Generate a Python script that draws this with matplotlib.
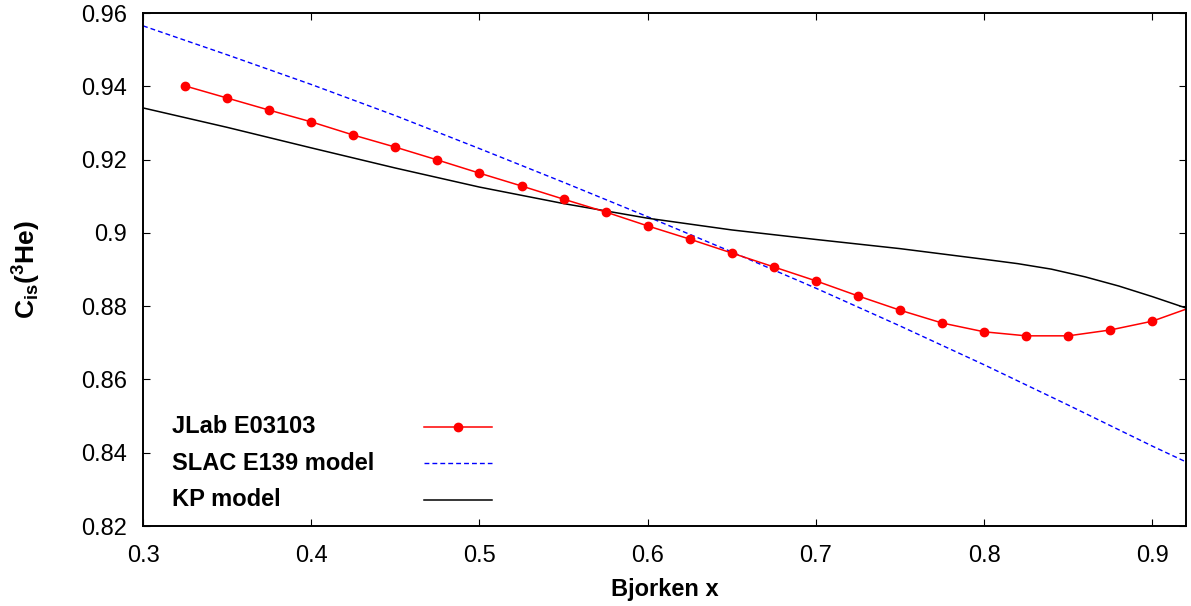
import numpy as np
import matplotlib
matplotlib.use("Agg")
import matplotlib.pyplot as plt
from matplotlib.ticker import FuncFormatter

# ============================
# 1. DATA
# ============================

jlab_x = [0.325, 0.35, 0.375, 0.40, 0.425, 0.45, 0.475, 0.50, 0.525, 0.55,
          0.575, 0.60, 0.625, 0.65, 0.675, 0.70, 0.725, 0.75, 0.775, 0.80,
          0.825, 0.85, 0.875, 0.90, 0.925]
jlab_y = [0.9401, 0.9368, 0.9335, 0.9303, 0.9267, 0.9234, 0.9199, 0.9163, 0.9128, 0.9092,
          0.9057, 0.9019, 0.8983, 0.8945, 0.8907, 0.8869, 0.8828, 0.8789, 0.8754, 0.8730,
          0.8719, 0.8719, 0.8735, 0.8759, 0.8800]

slac_x = [0.30, 0.35, 0.40, 0.45, 0.50, 0.55, 0.60, 0.65, 0.70, 0.75,
          0.80, 0.85, 0.90, 0.92]
slac_y = [0.9565, 0.9486, 0.9405, 0.9320, 0.9230, 0.9138, 0.9044, 0.8948, 0.8849, 0.8746,
          0.8640, 0.8530, 0.8418, 0.8375]

kp_x = [0.30, 0.35, 0.40, 0.45, 0.50, 0.55, 0.60, 0.65, 0.70, 0.75,
        0.80, 0.82, 0.84, 0.86, 0.88, 0.90, 0.92]
kp_y = [0.9341, 0.9288, 0.9232, 0.9177, 0.9125, 0.9080, 0.9040, 0.9008, 0.8982, 0.8957,
        0.8928, 0.8916, 0.8901, 0.8880, 0.8855, 0.8826, 0.8795]

labels = ["JLab E03103", "SLAC E139 model", "KP model"]

x_ticks = [0.3, 0.4, 0.5, 0.6, 0.7, 0.8, 0.9]
y_ticks = [0.82, 0.84, 0.86, 0.88, 0.90, 0.92, 0.94, 0.96]

# ============================
# 2. STYLE
# ============================

plt.rcParams["font.family"] = ["Liberation Sans", "DejaVu Sans"]
plt.rcParams["mathtext.fontset"] = "custom"
plt.rcParams["mathtext.rm"] = "Liberation Sans:bold"
plt.rcParams["mathtext.it"] = "Liberation Sans:bold"
plt.rcParams["mathtext.bf"] = "Liberation Sans:bold"
FS = 17

fig = plt.figure(figsize=(11.91, 6.06), dpi=100)
ax = fig.add_axes([0.1201, 0.1320, 0.8757, 0.8465])

# ============================
# 3. CURVES
# ============================

ax.plot(slac_x, slac_y, color="blue", lw=1.0, dashes=(3.5, 2.2))
ax.plot(kp_x, kp_y, color="black", lw=1.1)
ax.plot(jlab_x, jlab_y, color="red", lw=1.1, marker="o", ms=6)

ax.set_xlim(0.3, 0.92)
ax.set_ylim(0.82, 0.96)
ax.set_xticks(x_ticks)
ax.set_yticks(y_ticks)
fmt = FuncFormatter(lambda v, p: "%g" % round(v, 3))
ax.xaxis.set_major_formatter(fmt)
ax.yaxis.set_major_formatter(fmt)

ax.tick_params(direction="in", top=True, right=True, length=5, width=0.8,
               labelsize=FS)
ax.tick_params(axis="x", pad=13.5)
ax.tick_params(axis="y", pad=11.5)
for s in ax.spines.values():
    s.set_linewidth(1.4)

ax.set_xlabel("Bjorken x", fontsize=FS, fontweight="bold", va="baseline")
ax.xaxis.set_label_coords(0.5, -0.1365)
ax.text(-0.111, 0.5, r"$\mathbf{C}_{\mathbf{is}}(^{\mathbf{3}}\mathbf{He})$",
        transform=ax.transAxes, rotation=90, ha="center", va="center",
        fontsize=19)

# ============================
# 4. LEGEND (gnuplot style: text left, sample right)
# ============================

rows = [0.1936, 0.1228, 0.0507]
styles = [dict(color="red", lw=1.1),
          dict(color="blue", lw=1.0, dashes=(3.5, 2.2)),
          dict(color="black", lw=1.1)]
for lab, yy, st in zip(labels, rows, styles):
    ax.text(0.0278, yy, lab, transform=ax.transAxes, fontsize=FS,
            fontweight="bold", ha="left", va="center")
    ax.plot([0.2694, 0.3343], [yy, yy], transform=ax.transAxes, **st)
ax.plot([0.302], [rows[0]], transform=ax.transAxes, color="red",
        marker="o", ms=6)

fig.savefig("out.png", dpi=100)
